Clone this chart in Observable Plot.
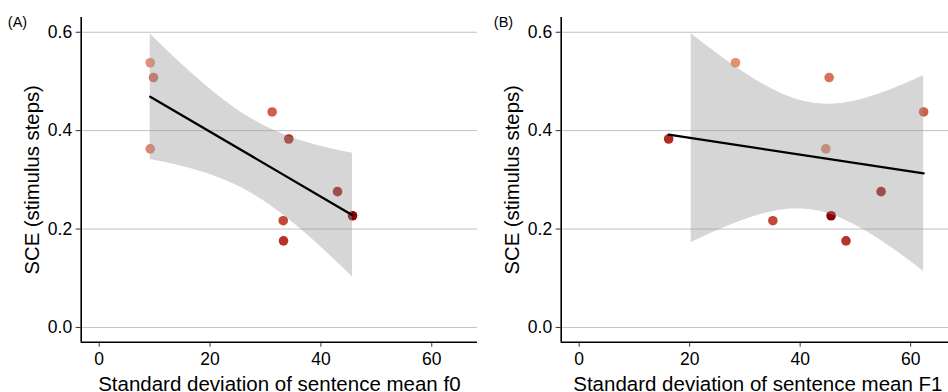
<!DOCTYPE html>
<html>
<head>
<meta charset="utf-8">
<script src="https://cdn.jsdelivr.net/npm/d3@7"></script>
<script src="https://cdn.jsdelivr.net/npm/@observablehq/plot@0.6"></script>
<style>
  html, body { margin: 0; padding: 0; background: #fff; overflow: hidden; }
  #row { display: flex; flex-direction: row; width: 948px; height: 392px; overflow: hidden; }
</style>
</head>
<body>
<div id="row"></div>
<script>
// ---- data ----
const talkers = ["T1", "T2", "T3", "T4", "T5", "T6", "T7", "T8", "T9"];
const sce     = [0.538, 0.508, 0.363, 0.438, 0.383, 0.276, 0.227, 0.217, 0.176];
const sdF0    = [9.2, 9.8, 9.2, 31.2, 34.2, 43.0, 45.7, 33.2, 33.25];
const sdF1    = [28.3, 45.25, 44.65, 62.35, 16.2, 54.65, 45.6, 35.06, 48.3];
const xTicks  = [0, 20, 40, 60];
const yTicks  = [0, 0.2, 0.4, 0.6];
const xTitles = ["Standard deviation of sentence mean f0", "Standard deviation of sentence mean F1"];
const tags    = ["(A)", "(B)"];
const yTitle  = "SCE (stimulus steps)";

// ---- styling ----
const talkerColors = ["#e98e72", "#d8715e", "#e0866f", "#d25d49", "#b02b21", "#a81a14", "#8e0000", "#c4483a", "#b6322a"];
const FONT = "'Liberation Sans', Arial, Helvetica, sans-serif";
const yLimits = [0, 0.6];

// 95% confidence band of a least-squares fit (as geom_smooth(method = "lm")),
// dropping samples outside the y scale limits like ggplot does.
function ciBand(data) {
  const n = data.length;
  const tq = {7: 2.364624}[n - 2];
  const mx = d3.mean(data, d => d.x), my = d3.mean(data, d => d.y);
  const sxx = d3.sum(data, d => (d.x - mx) ** 2);
  const sxy = d3.sum(data, d => (d.x - mx) * (d.y - my));
  const b = sxy / sxx, a = my - b * mx;
  const s = Math.sqrt(d3.sum(data, d => (d.y - a - b * d.x) ** 2) / (n - 2));
  const [x0, x1] = d3.extent(data, d => d.x);
  const out = [];
  for (let i = 0; i < 80; i++) {
    const x = x0 + (x1 - x0) * i / 79;
    const f = a + b * x;
    const h = tq * s * Math.sqrt(1 / n + (x - mx) ** 2 / sxx);
    if (f + h <= yLimits[1] && f - h >= yLimits[0]) out.push({x, lo: f - h, hi: f + h});
  }
  return out;
}

function panel(xs, k, width, xDomain, marginRight, tagDx, titleDx) {
  const data = talkers.map((t, i) => ({talker: t, x: xs[i], y: sce[i]}));
  const band = ciBand(data);
  const yDomain = [-0.03, 0.63];
  return Plot.plot({
    width, height: 392,
    marginLeft: 80.7, marginRight, marginTop: 17, marginBottom: 50.3,
    x: {domain: xDomain, label: null},
    y: {domain: yDomain, label: null},
    color: {type: "ordinal", domain: talkers, range: talkerColors},
    style: {fontFamily: FONT, fontSize: "17.5px", color: "black", background: "white", overflow: "visible"},
    marks: [
      Plot.gridY(yTicks, {stroke: "#c2c2c2", strokeOpacity: 1, strokeWidth: 1}),
      Plot.axisY(yTicks, {tickSize: 5, tickPadding: 4, tickFormat: d3.format(".1f"), stroke: "#333", fill: "black", label: null}),
      Plot.axisX(xTicks, {tickSize: 5, tickPadding: 5, stroke: "#333", fill: "black", label: null}),
      Plot.dot(data, {x: "x", y: "y", fill: "talker", r: 4.8}),
      Plot.areaY(band, {x: "x", y1: "lo", y2: "hi", fill: "#999999", fillOpacity: 0.4}),
      Plot.linearRegressionY(data, {x: "x", y: "y", stroke: "black", strokeWidth: 2.3, ci: 0}),
      Plot.ruleX([xDomain[0]], {stroke: "black", strokeWidth: 1.6}),
      Plot.ruleY([yDomain[0]], {stroke: "black", strokeWidth: 1.6}),
      Plot.text([xTitles[k]], {text: d => d, frameAnchor: "bottom", textAnchor: "middle", lineAnchor: "bottom", dy: 48.5, dx: titleDx, fontSize: 20.5}),
      Plot.text([yTitle], {text: d => d, frameAnchor: "left", textAnchor: "middle", rotate: -90, lineAnchor: "bottom", dx: -42.4, fontSize: 20.3}),
      Plot.text([tags[k]], {text: d => d, frameAnchor: "top-left", textAnchor: "start", lineAnchor: "bottom", dx: tagDx, dy: 9, fontSize: 14.5})
    ]
  });
}

const row = document.getElementById("row");
row.append(panel(sdF0, 0, 480, [-3.25, 68.25], 3, -73.4, 0));
row.append(panel(sdF1, 1, 468, [-3.25, 66.85], 0, -67.4, 3));
</script>
</body>
</html>
